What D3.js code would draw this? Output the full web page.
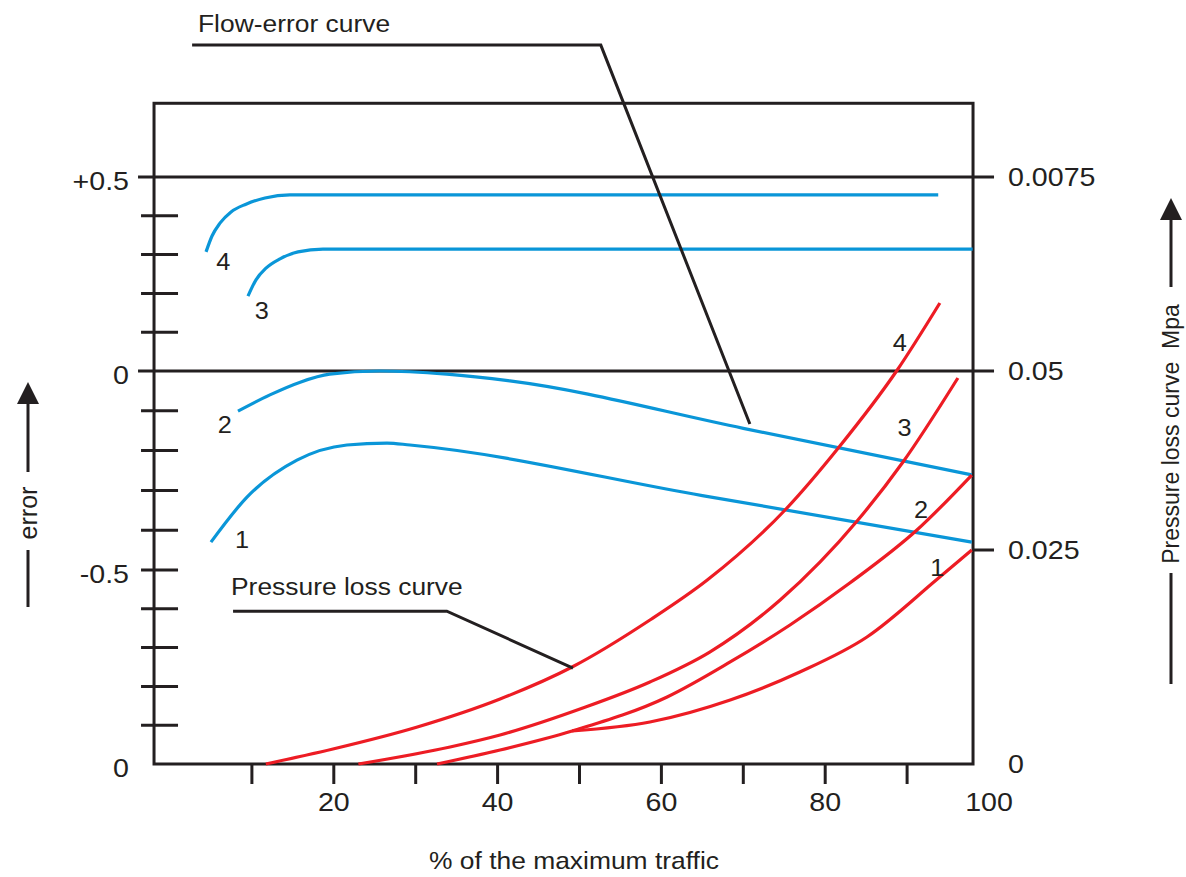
<!DOCTYPE html>
<html>
<head>
<meta charset="utf-8">
<script src="https://cdn.jsdelivr.net/npm/d3@7"></script>
<style>
  html, body { margin: 0; padding: 0; background: #fff; }
  svg text { font-family: "Liberation Sans", Arial, sans-serif; fill: #231f20; }
</style>
</head>
<body>
<div id="chart"></div>
<script>
// x: % of the maximum traffic
const xTickValues = [10, 20, 30, 40, 50, 60, 70, 80, 90];
const xLabelValues = [20, 40, 60, 80, 100];

// left axis: error
const errMinorTicks = [0.4, 0.3, 0.2, 0.1, -0.1, -0.2, -0.3, -0.4, -0.5, -0.6, -0.7, -0.8, -0.9];
const errLabelValues = [0.5, 0, -0.5, -1];
const errLabelText = ["+0.5", "0", "-0.5", "0"];
const errGridLines = [0.5, 0];

// right axis: pressure loss (Mpa)
const pLabelValues = [0.075, 0.05, 0.025, 0];
const pLabelText = ["0.0075", "0.05", "0.025", "0"];
const pTickValues = [0.025];

// flow-error curves [x %, error]
const flow4 = [[4.4, 0.307], [5.13, 0.348], [6.1, 0.381], [7.45, 0.410], [9.28, 0.430], [11.6, 0.446], [14.65, 0.454], [93.8, 0.454]];
const flow3 = [[9.52, 0.193], [10.5, 0.235], [11.72, 0.265], [13.43, 0.289], [15.63, 0.307], [18.68, 0.314], [98.0, 0.314]];
const flow2 = [[8.3, -0.101], [12.2, -0.060], [15.9, -0.028], [19.5, -0.008], [25.6, 0], [33.8, -0.008], [41.5, -0.025], [70, -0.144], [97.9, -0.261]];
const flow1 = [[5.0, -0.430], [9.4, -0.317], [15.5, -0.224], [21.6, -0.186], [26.5, -0.181], [29.3, -0.186], [65, -0.313], [97.9, -0.430]];

// pressure loss curves [x %, Mpa]
const loss4 = [[11.7, 0], [19.9, 0.00175], [30.2, 0.00432], [40.3, 0.00759], [49.1, 0.01133], [58.6, 0.01682], [65.6, 0.02149], [75.1, 0.03059], [81.6, 0.03925], [88.8, 0.05013], [94.0, 0.05876]];
const loss3 = [[23.0, 0], [34.2, 0.00199], [40.3, 0.00339], [50.4, 0.00654], [58.6, 0.00958], [65.9, 0.01308], [74.5, 0.01916], [84.0, 0.02919], [89.5, 0.03729], [96.2, 0.04902]];
const loss2 = [[32.6, 0], [40.3, 0.00164], [49.1, 0.00386], [60.7, 0.00783], [68.4, 0.01192], [75.7, 0.01624], [83.0, 0.02114], [91.2, 0.02779], [97.9, 0.03547]];
const loss1 = [[49.1, 0.00386], [58.6, 0.00491], [68.4, 0.00748], [76.9, 0.01075], [85.1, 0.01484], [93.7, 0.02161], [97.9, 0.025]];

const flowCurves = [flow1, flow2, flow3, flow4];
const lossCurves = [loss1, loss2, loss3, loss4];
const curveNames = ["1", "2", "3", "4"];
const flowLabelPos = [[8.8, -0.425], [6.7, -0.136], [11.2, 0.155], [6.5, 0.281]];
const lossLabelPos = [[93.7, 0.0229], [91.7, 0.0306], [89.7, 0.042], [89.1, 0.0536]];

const W = 1186, H = 877;
const BLACK = "#231f20", BLUE = "#0a96d8", RED = "#ed1c24";
const STRETCH = 1.1;

const x = d3.scaleLinear().domain([0, 100]).range([170, 989]);
const yErr = d3.scaleLinear().domain([-1, -0.5, 0, 0.5]).range([764, 570, 371, 177]);
const yP = d3.scaleLinear().domain([0, 0.025, 0.05, 0.075]).range([764, 550, 371, 177]);

// frame extents in data units
const boxX = [-1.95, 98.05];
const boxErr = [-1, 0.69];

const svg = d3.select("#chart").append("svg").attr("width", W).attr("height", H);

function label(txt, px, py, size, anchor) {
  return svg.append("text")
    .attr("transform", `translate(${px},${py}) scale(${STRETCH},1)`)
    .attr("font-size", size)
    .attr("text-anchor", anchor || "start")
    .text(txt);
}

// frame
svg.append("rect")
  .attr("x", x(boxX[0])).attr("y", yErr(boxErr[1]))
  .attr("width", x(boxX[1]) - x(boxX[0]))
  .attr("height", yErr(boxErr[0]) - yErr(boxErr[1]))
  .attr("fill", "none").attr("stroke", BLACK).attr("stroke-width", 3);

// full width lines at +0.5 and 0
svg.selectAll("line.grid").data(errGridLines).join("line")
  .attr("x1", x(boxX[0]) - 16).attr("x2", x(boxX[1]) + 21)
  .attr("y1", d => yErr(d)).attr("y2", d => yErr(d))
  .attr("stroke", BLACK).attr("stroke-width", 3);

// left minor ticks
svg.selectAll("line.etick").data(errMinorTicks).join("line")
  .attr("x1", x(boxX[0]) - 13).attr("x2", x(boxX[0]) + 24)
  .attr("y1", d => yErr(d)).attr("y2", d => yErr(d))
  .attr("stroke", BLACK).attr("stroke-width", 3);

// right ticks
svg.selectAll("line.ptick").data(pTickValues).join("line")
  .attr("x1", x(boxX[1])).attr("x2", x(boxX[1]) + 21)
  .attr("y1", d => yP(d)).attr("y2", d => yP(d))
  .attr("stroke", BLACK).attr("stroke-width", 3);

// bottom ticks
svg.selectAll("line.xtick").data(xTickValues).join("line")
  .attr("x1", d => x(d)).attr("x2", d => x(d))
  .attr("y1", yErr(-1)).attr("y2", yErr(-1) + 20)
  .attr("stroke", BLACK).attr("stroke-width", 3);

// tick labels
xLabelValues.forEach(v => label(String(v), x(v), yErr(-1) + 47, 26, "middle"));
errLabelValues.forEach((v, i) => label(errLabelText[i], 129, yErr(v) + 13, 26, "end"));
pLabelValues.forEach((v, i) => label(pLabelText[i], 1008, yP(v) + 9, 26, "start"));

// curves
const lineErr = d3.line().x(d => x(d[0])).y(d => yErr(d[1])).curve(d3.curveMonotoneX);
const lineP = d3.line().x(d => x(d[0])).y(d => yP(d[1])).curve(d3.curveMonotoneX);

svg.selectAll("path.flow").data(flowCurves).join("path")
  .attr("d", lineErr).attr("fill", "none")
  .attr("stroke", BLUE).attr("stroke-width", 3.2);

svg.selectAll("path.loss").data(lossCurves).join("path")
  .attr("d", lineP).attr("fill", "none")
  .attr("stroke", RED).attr("stroke-width", 3.2);

// curve numbers
flowLabelPos.forEach((p, i) => label(curveNames[i], x(p[0]), yErr(p[1]) + 8, 23, "middle"));
lossLabelPos.forEach((p, i) => label(curveNames[i], x(p[0]), yP(p[1]) + 8, 23, "middle"));

// annotation leaders
const flowLeader = [[2.7, 0.84], [52.6, 0.84], [70.8, -0.133]];
const lossLeader = [[7.7, -0.606], [33.8, -0.606], [49.2, -0.753]];
const straight = d3.line().x(d => x(d[0])).y(d => yErr(d[1]));
[flowLeader, lossLeader].forEach(l => {
  svg.append("path").attr("d", straight(l)).attr("fill", "none")
    .attr("stroke", BLACK).attr("stroke-width", 3);
});
label("Flow-error curve", 198, 32, 24);
label("Pressure loss curve", 231, 595, 24);

// axis titles
label("% of the maximum traffic", 574, 869, 24, "middle");

function arrow(cx, tip, base, end) {
  svg.append("line").attr("x1", cx).attr("x2", cx).attr("y1", base).attr("y2", end)
    .attr("stroke", BLACK).attr("stroke-width", 3);
  svg.append("path")
    .attr("d", `M${cx},${tip} L${cx - 11},${base + 1} L${cx + 11},${base + 1} Z`)
    .attr("fill", BLACK);
}

// left "error"
arrow(28, 382, 403, 472);
svg.append("line").attr("x1", 28).attr("x2", 28).attr("y1", 550).attr("y2", 607)
  .attr("stroke", BLACK).attr("stroke-width", 3);
svg.append("text")
  .attr("transform", "translate(37,513) rotate(-90)")
  .attr("font-size", 25).attr("text-anchor", "middle")
  .text("error");

// right "Pressure loss curve  Mpa"
arrow(1171, 198, 219, 287);
svg.append("line").attr("x1", 1171).attr("x2", 1171).attr("y1", 573).attr("y2", 684)
  .attr("stroke", BLACK).attr("stroke-width", 3);
svg.append("text")
  .attr("transform", "translate(1179,434) rotate(-90)")
  .attr("font-size", 23).attr("text-anchor", "middle")
  .attr("xml:space", "preserve")
  .style("white-space", "pre")
  .text("Pressure loss curve  Mpa");
</script>
</body>
</html>
